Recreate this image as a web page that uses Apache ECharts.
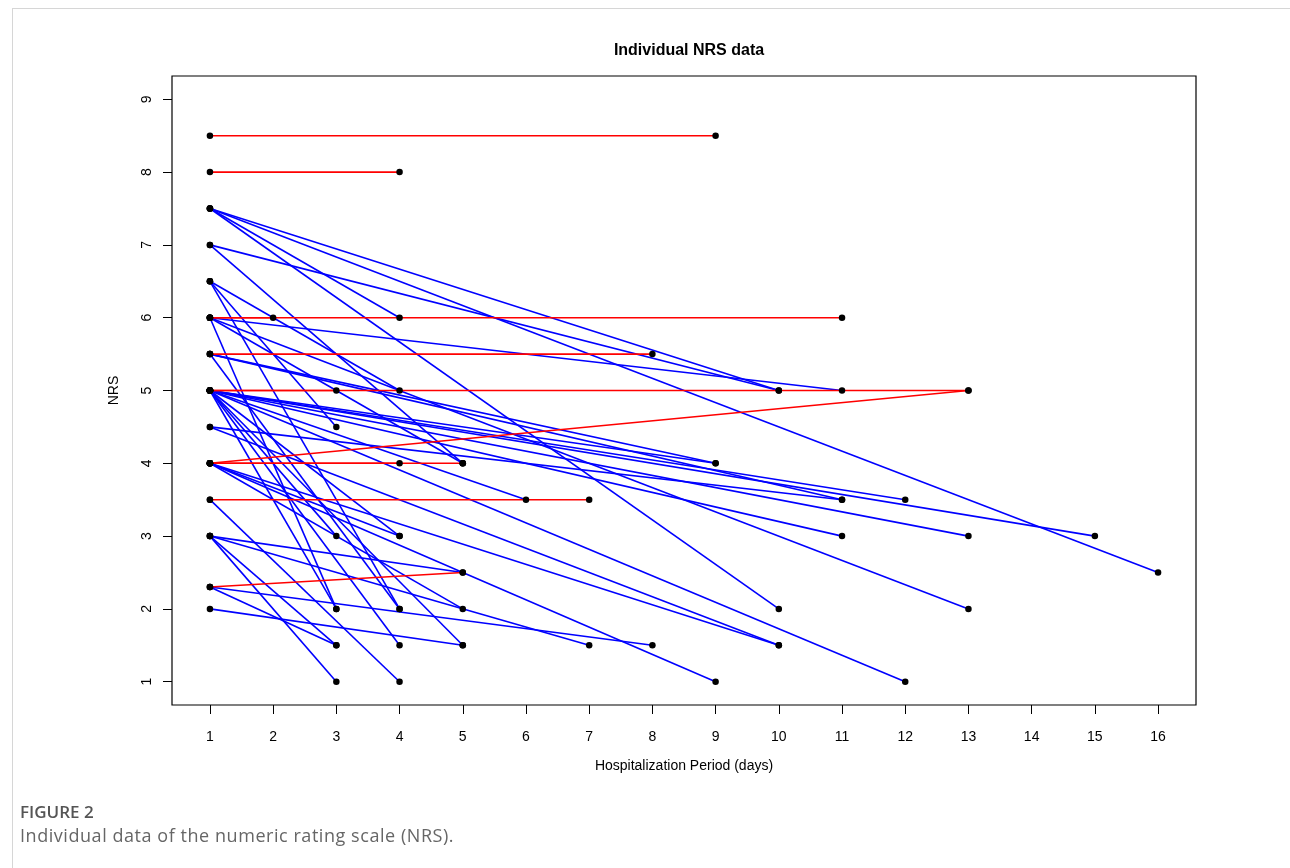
<!DOCTYPE html>
<html>
<head>
<meta charset="utf-8">
<script src="https://cdn.jsdelivr.net/npm/echarts@6/dist/echarts.min.js"></script>
<style>
  html, body { margin: 0; padding: 0; background: #fff; }
  #frame { position: absolute; left: 12px; top: 8px; width: 1278px; height: 860px;
           border-left: 1px solid #d6d6d6; border-top: 1px solid #d6d6d6; }
  #chart { position: absolute; left: 0; top: 0; width: 1290px; height: 868px; }
  .cap { position: absolute; left: 20px; font-family: "Open Sans", sans-serif; white-space: nowrap; }
  #figno { top: 800px; font-size: 17px; font-weight: 600; color: #555; }
  #figtxt { top: 823px; font-size: 18px; letter-spacing: 0.55px; color: #666; }
</style>
</head>
<body>
<div id="frame"></div>
<div id="chart"></div>
<div class="cap" id="figno">FIGURE 2</div>
<div class="cap" id="figtxt">Individual data of the numeric rating scale (NRS).</div>
<script>
// one entry per patient: NRS on day 1, last day, NRS on last day
var startNRS = [8.5, 8, 7.5, 7.5, 7.5, 7.5, 7, 7, 6.5, 6.5,
                6, 6, 6, 6, 6, 6, 5.5, 5.5, 5.5, 5.5,
                5, 5, 5, 5, 5, 5, 5, 5, 5, 5,
                5, 5, 5, 5, 4.5, 4.5, 4, 4, 4, 4,
                4, 4, 4, 3.5, 3.5, 3, 3, 3, 3, 2.3,
                2.3, 2.3, 2, 6.5];
var endDay   = [9, 4, 16, 4, 10, 10, 10, 5, 4, 3,
                11, 2, 11, 13, 5, 3, 8, 9, 4, 11,
                13, 3, 9, 12, 15, 13, 11, 6, 12, 3,
                4, 3, 4, 5, 10, 11, 13, 5, 4, 10,
                9, 5, 4, 7, 4, 5, 7, 3, 3, 5,
                3, 8, 5, 4];
var endNRS   = [8.5, 8, 2.5, 6, 5, 2, 5, 4, 5, 4.5,
                6, 6, 5, 2, 4, 2, 5.5, 4, 2, 3.5,
                5, 5, 4, 3.5, 3, 3, 3, 3.5, 1, 2,
                1.5, 3, 3, 1.5, 1.5, 3.5, 5, 4, 4, 1.5,
                1, 2, 3, 3.5, 1, 2.5, 1.5, 1.5, 1, 2.5,
                1.5, 1.5, 1.5, 2];

var xTicks = [1, 2, 3, 4, 5, 6, 7, 8, 9, 10, 11, 12, 13, 14, 15, 16];
var yTicks = [1, 2, 3, 4, 5, 6, 7, 8, 9];

var series = [];
var dots = [];
for (var i = 0; i < startNRS.length; i++) {
	var up = endNRS[i] >= startNRS[i];
	series.push({
		type: 'line',
		data: [[1, startNRS[i]], [endDay[i], endNRS[i]]],
		showSymbol: false,
		symbol: 'none',
		lineStyle: { color: up ? '#ff0000' : '#0000ff', width: 1.6 },
		z: up ? 3 : 2,
		silent: true
	});
	dots.push([1, startNRS[i]]);
	dots.push([endDay[i], endNRS[i]]);
}
series.push({
	type: 'scatter',
	data: dots,
	symbol: 'circle',
	symbolSize: 6.5,
	itemStyle: { color: '#000', opacity: 1 },
	z: 5,
	silent: true
});

var font = 'Liberation Sans, Arial, sans-serif';
var option = {
	animation: false,
	title: {
		text: 'Individual NRS data',
		left: 684,
		top: 38,
		textAlign: 'center',
		textStyle: { fontFamily: font, fontSize: 16, fontWeight: 'bold', color: '#000' }
	},
	grid: {
		left: 172, right: 94, top: 76, bottom: 163,
		show: true, borderColor: '#000', borderWidth: 1.2, backgroundColor: '#fff'
	},
	xAxis: {
		type: 'value',
		min: 0.4, max: 16.6,
		interval: 1,
		name: 'Hospitalization Period (days)',
		nameLocation: 'middle',
		nameGap: 54,
		nameTextStyle: { fontFamily: font, fontSize: 14, color: '#000' },
		axisLine: { show: false },
		splitLine: { show: false },
		axisTick: { show: true, length: 9, lineStyle: { color: '#000' },
			customValues: xTicks },
		axisLabel: { fontFamily: font, fontSize: 14, color: '#000', margin: 25,
			customValues: xTicks }
	},
	yAxis: {
		type: 'value',
		min: 0.68, max: 9.32,
		name: 'NRS',
		nameLocation: 'middle',
		nameGap: 51,
		nameRotate: 90,
		nameTextStyle: { fontFamily: font, fontSize: 14, color: '#000' },
		axisLine: { show: false },
		splitLine: { show: false },
		axisTick: { show: true, length: 9, lineStyle: { color: '#000' },
			customValues: yTicks },
		axisLabel: { fontFamily: font, fontSize: 14, color: '#000', rotate: 90, margin: 18,
			customValues: yTicks }
	},
	series: series
};

var myChart = echarts.init(document.getElementById('chart'));
myChart.setOption(option);
</script>
</body>
</html>
